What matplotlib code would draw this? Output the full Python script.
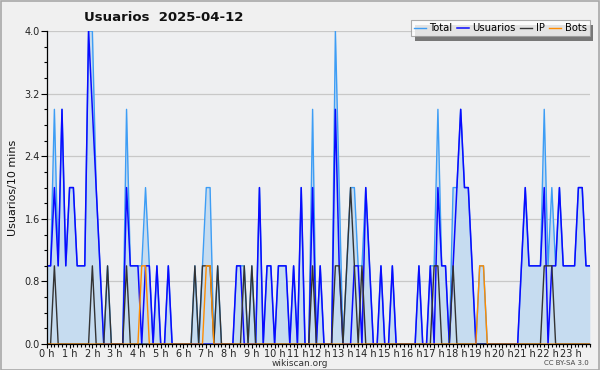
import matplotlib
matplotlib.use("Agg")
import matplotlib.pyplot as plt
from matplotlib.patches import Rectangle
import numpy as np

title = "Usuarios  2025-04-12"
hour_labels = [f"{h} h" for h in range(24)]
series_names = ["Total", "Usuarios", "IP", "Bots"]

total = [1, 1, 3, 1, 3, 1, 2, 2, 1, 1, 1, 4, 4, 2, 1, 0, 1, 0, 0, 0,
         0, 3, 1, 1, 1, 1, 2, 1, 0, 1, 0, 0, 1, 0, 0, 0, 0, 0, 0, 1,
         0, 1, 2, 2, 0, 1, 0, 0, 0, 0, 1, 1, 1, 0, 1, 0, 2, 0, 1, 1,
         0, 1, 1, 1, 0, 1, 0, 2, 0, 0, 3, 0, 1, 0, 0, 0, 4, 2, 0, 1,
         2, 2, 1, 1, 2, 1, 0, 0, 1, 0, 0, 1, 0, 0, 0, 0, 0, 0, 1, 0,
         0, 1, 1, 3, 1, 1, 0, 2, 2, 3, 2, 2, 1, 0, 1, 1, 0, 0, 0, 0,
         0, 0, 0, 0, 0, 1, 2, 1, 1, 1, 1, 3, 1, 2, 1, 2, 1, 1, 1, 1,
         2, 2, 1, 1]
usuarios = [1, 1, 2, 1, 3, 1, 2, 2, 1, 1, 1, 4, 3, 2, 1, 0, 0, 0, 0, 0,
            0, 2, 1, 1, 1, 0, 1, 1, 0, 1, 0, 0, 1, 0, 0, 0, 0, 0, 0, 0,
            0, 0, 0, 0, 0, 0, 0, 0, 0, 0, 1, 1, 0, 0, 0, 0, 2, 0, 1, 1,
            0, 1, 1, 1, 0, 1, 0, 2, 0, 0, 2, 0, 1, 0, 0, 0, 3, 1, 0, 0,
            0, 1, 1, 0, 2, 1, 0, 0, 1, 0, 0, 1, 0, 0, 0, 0, 0, 0, 1, 0,
            0, 1, 0, 2, 1, 1, 0, 1, 2, 3, 2, 2, 1, 0, 0, 0, 0, 0, 0, 0,
            0, 0, 0, 0, 0, 1, 2, 1, 1, 1, 1, 2, 0, 1, 1, 2, 1, 1, 1, 1,
            2, 2, 1, 1]
ip = [0, 0, 1, 0, 0, 0, 0, 0, 0, 0, 0, 0, 1, 0, 0, 0, 1, 0, 0, 0,
      0, 1, 0, 0, 0, 0, 0, 0, 0, 0, 0, 0, 0, 0, 0, 0, 0, 0, 0, 1,
      0, 1, 1, 1, 0, 1, 0, 0, 0, 0, 0, 0, 1, 0, 1, 0, 0, 0, 0, 0,
      0, 0, 0, 0, 0, 0, 0, 0, 0, 0, 1, 0, 0, 0, 0, 0, 1, 1, 0, 1,
      2, 1, 0, 1, 0, 0, 0, 0, 0, 0, 0, 0, 0, 0, 0, 0, 0, 0, 0, 0,
      0, 0, 1, 1, 0, 0, 0, 1, 0, 0, 0, 0, 0, 0, 0, 0, 0, 0, 0, 0,
      0, 0, 0, 0, 0, 0, 0, 0, 0, 0, 0, 1, 1, 1, 0, 0, 0, 0, 0, 0,
      0, 0, 0, 0]
bots = [0, 0, 0, 0, 0, 0, 0, 0, 0, 0, 0, 0, 0, 0, 0, 0, 0, 0, 0, 0,
        0, 0, 0, 0, 0, 1, 1, 0, 0, 0, 0, 0, 0, 0, 0, 0, 0, 0, 0, 0,
        0, 0, 1, 1, 0, 0, 0, 0, 0, 0, 0, 0, 0, 0, 0, 0, 0, 0, 0, 0,
        0, 0, 0, 0, 0, 0, 0, 0, 0, 0, 0, 0, 0, 0, 0, 0, 0, 0, 0, 0,
        0, 0, 0, 0, 0, 0, 0, 0, 0, 0, 0, 0, 0, 0, 0, 0, 0, 0, 0, 0,
        0, 0, 0, 0, 0, 0, 0, 0, 0, 0, 0, 0, 0, 0, 1, 1, 0, 0, 0, 0,
        0, 0, 0, 0, 0, 0, 0, 0, 0, 0, 0, 0, 0, 0, 0, 0, 0, 0, 0, 0,
        0, 0, 0, 0]

plt.rcParams['font.family'] = ['DejaVu Sans']

fig = plt.figure(figsize=(6, 3.7), dpi=100, facecolor='#f0f0f0')
fig.patches.append(Rectangle((0.001, 0.001), 0.997, 0.996, transform=fig.transFigure,
                             fill=False, edgecolor='#a8a8a8', lw=1.2))
ax = fig.add_axes([0.078, 0.070, 0.905, 0.846])
ax.set_facecolor('#eeeff1')

x = np.arange(len(total))
ax.fill_between(x, total, 0, color='#c6dcf0', lw=0, zorder=2)
l_total, = ax.plot(x, total, color='#3d9df5', lw=1.0, zorder=3)
l_usr, = ax.plot(x, usuarios, color='#0a0aff', lw=1.1, zorder=4)
l_ip, = ax.plot(x, ip, color='#333333', lw=1.0, zorder=5)
l_bots, = ax.plot(x, bots, color='#ff8c00', lw=1.0, zorder=6)

ax.set_xlim(0, len(total) - 1)
ax.set_ylim(0, 4.0)
ax.set_yticks(np.arange(0, 4.01, 0.8))
ax.set_yticklabels([f"{v:.1f}" for v in np.arange(0, 4.01, 0.8)])
ax.set_yticks(np.arange(0, 4.01, 0.2), minor=True)
ax.set_xticks(np.arange(0, 144, 6))
ax.set_xticklabels(hour_labels)
ax.set_xticks(np.arange(0, 144, 1), minor=True)
ax.tick_params(axis='both', which='major', labelsize=7, length=4, width=0.8,
               color='black', labelcolor='#222222', pad=1)
ax.tick_params(axis='x', which='major', length=3, pad=0.5)
ax.tick_params(axis='both', which='minor', length=2.5, width=0.8, color='black')
ax.grid(axis='y', which='major', color='#c8c8c8', lw=0.9, zorder=1)
for s in ['top', 'right']:
    ax.spines[s].set_visible(False)
for s in ['left', 'bottom']:
    ax.spines[s].set_color('black')
    ax.spines[s].set_linewidth(0.9)
    ax.spines[s].set_zorder(7)

ax.set_ylabel("Usuarios/10 mins", fontsize=8, labelpad=5, color='#111111')
fig.text(0.14, 0.953, title, fontsize=9.5, fontweight='bold', ha='left', va='center',
         color='#111111')
fig.text(0.5, 0.018, "wikiscan.org", fontsize=6.5, ha='center', va='center', color='#333333')
fig.text(0.982, 0.018, "CC BY-SA 3.0", fontsize=5, ha='right', va='center', color='#444444')

leg = fig.legend([l_total, l_usr, l_ip, l_bots], series_names, loc='upper right',
                 bbox_to_anchor=(0.983, 0.945), ncol=4, fontsize=7.2, frameon=True,
                 fancybox=False, shadow=False, handlelength=1.2, handletextpad=0.35,
                 columnspacing=0.45, borderpad=0.3, borderaxespad=0)
leg.get_frame().set_edgecolor('#999999')
leg.get_frame().set_facecolor('white')
leg.get_frame().set_linewidth(0.8)
leg.set_zorder(10)

fig.canvas.draw()
bb = leg.get_window_extent().transformed(fig.transFigure.inverted())
fig.patches.append(Rectangle((bb.x0 + 0.006, bb.y0 - 0.012), bb.width, bb.height,
                             transform=fig.transFigure, facecolor='#777777',
                             edgecolor='none', zorder=0))

fig.savefig("out.png", dpi=100, facecolor=fig.get_facecolor())
